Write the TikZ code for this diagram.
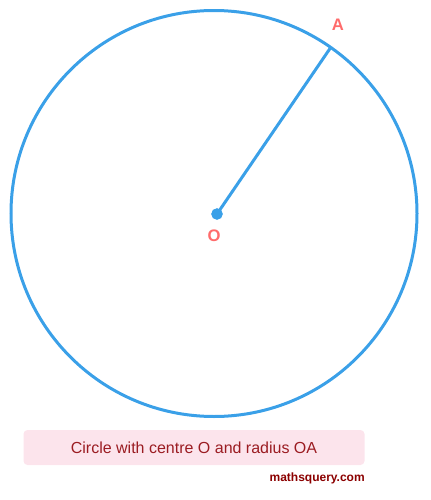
\documentclass[tikz,border=0pt]{standalone}
\usepackage{fontspec}
\setmainfont{Liberation Sans}
\usepackage{tikz}
\definecolor{circblue}{HTML}{3AA0E8}
\definecolor{lblred}{HTML}{FF6B6B}
\definecolor{boxpink}{HTML}{FCE4EC}
\definecolor{capred}{HTML}{9B1C22}
\definecolor{sitered}{HTML}{8B0000}
\tikzset{
  dot/.style={circle, fill=circblue, inner sep=0pt, minimum size=8.5pt},
  lbl/.style={text=lblred, font=\bfseries\fontsize{12.5}{14}\selectfont},
  capbox/.style={fill=boxpink, rounded corners=3pt, minimum width=255.75pt, minimum height=26.25pt, text=capred, font=\fontsize{12}{14}\selectfont},
  site/.style={text=sitered, inner sep=0pt, font=\bfseries\fontsize{9}{11}\selectfont}
}

\begin{document}
\begin{tikzpicture}[x=0.75pt,y=-0.75pt]
\useasboundingbox (0,0) rectangle (430,500);
% circle and radius
\draw[circblue, line width=2.25pt] (214,213.5) circle [radius=203];
\coordinate (A) at (330,48.5);
\node[dot] (O) at (217,214) {};
\draw[circblue, line width=2.25pt] (O.center) -- (A);
\node[dot] at (O) {};
\node[lbl] (labA) at (338,25) {A};
\node[lbl] (labO) at (214,235.5) {O};
% caption
\node[capbox] (cap) at (194,447.5) {Circle with centre O and radius OA};
\node[site, anchor=east] (site) at (365,478.5) {mathsquery.com};
\end{tikzpicture}
\end{document}
